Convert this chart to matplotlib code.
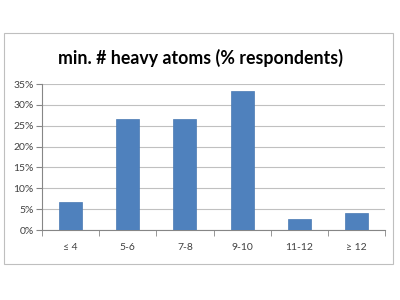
import matplotlib.pyplot as plt
from matplotlib.patches import Rectangle

plt.rcParams['font.family'] = ['Lato', 'DejaVu Sans']

# data
categories = ['≤ 4', '5-6', '7-8', '9-10', '11-12', '≥ 12']
percent = [6.6, 26.5, 26.5, 33.3, 2.6, 4.0]
yticks = [0, 5, 10, 15, 20, 25, 30, 35]

fig = plt.figure(figsize=(4, 3), dpi=100)
fig.patch.set_facecolor('white')

# outer chart border
fig.patches.append(Rectangle((4 / 400, 1 - 264 / 300), 389 / 400, 231 / 300,
                             transform=fig.transFigure, fill=False,
                             edgecolor='#bfbfbf', linewidth=0.8))

ax = fig.add_axes([42 / 400, 1 - 230 / 300, 343 / 400, 146 / 300])
x = range(len(categories))
ax.bar(x, percent, width=0.4, color='#4f81bd', edgecolor='#4a7ab3', linewidth=0.5, zorder=3)

ax.set_xlim(-0.5, len(categories) - 0.5)
ax.set_ylim(0, 35)
ax.set_yticks(yticks)
ax.set_yticklabels([f'{t}%' for t in yticks])
ax.set_xticks(list(x))
ax.set_xticklabels(categories)
ax.set_xticks([i - 0.5 for i in range(len(categories) + 1)], minor=True)

ax.yaxis.grid(True, color='#c0c0c0', linewidth=0.8, zorder=0)
for s in ['top', 'right']:
    ax.spines[s].set_visible(False)
ax.spines['left'].set_color('#868686')
ax.spines['bottom'].set_color('#868686')
ax.tick_params(axis='y', length=4, color='#868686', labelsize=7.5, labelcolor='#404040', pad=2)
ax.tick_params(axis='x', which='major', length=0, labelsize=7.5, labelcolor='#404040', pad=9)
ax.tick_params(axis='x', which='minor', length=4, color='#868686')

fig.text(0.5, 1 - 58 / 300, 'min. # heavy atoms (% respondents)', ha='center', va='center',
         fontsize=12.8, fontweight='bold', color='black')

fig.savefig('out.png', dpi=100)
